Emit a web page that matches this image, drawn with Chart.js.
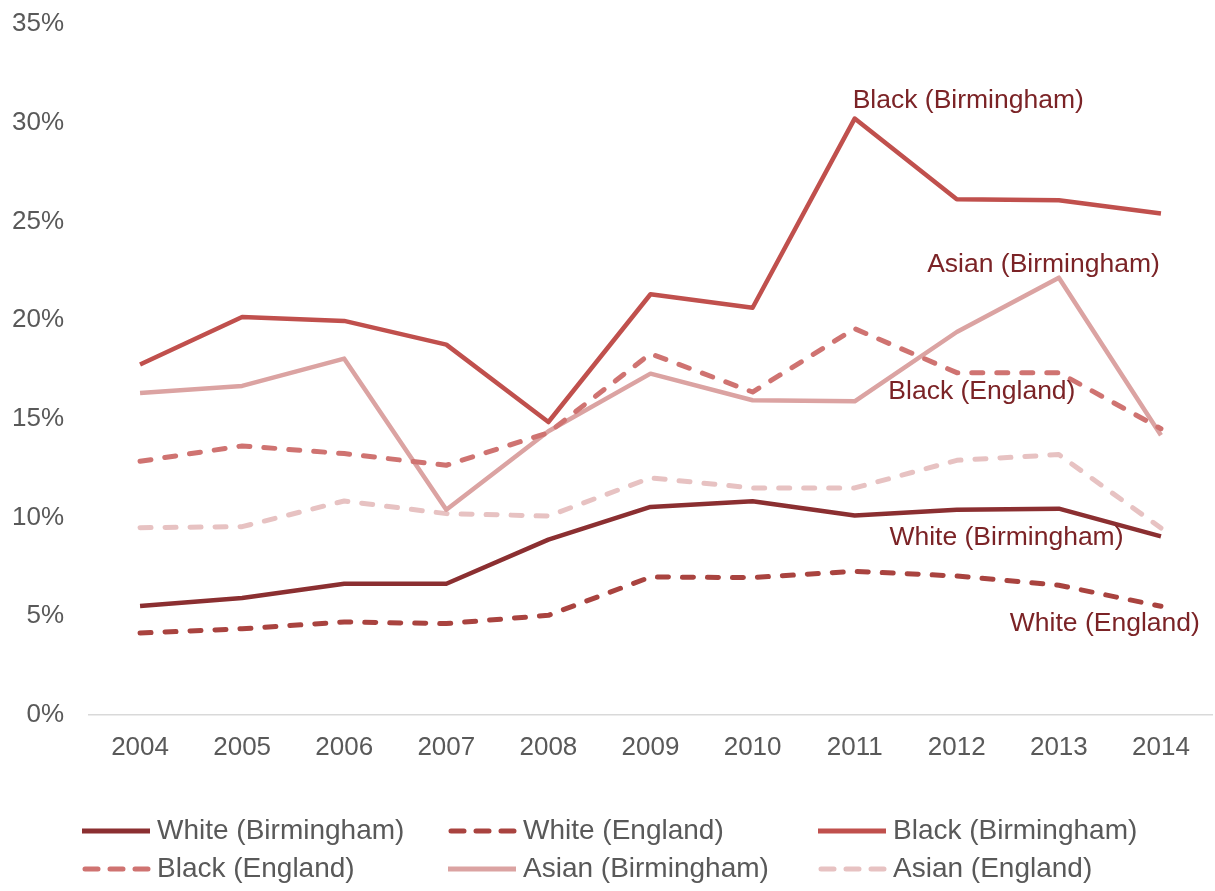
<!DOCTYPE html>
<html>
<head>
<meta charset="utf-8">
<script src="https://cdn.jsdelivr.net/npm/chart.js@4.4.1/dist/chart.umd.min.js"></script>
<style>
    html, body { margin: 0; padding: 0; background: #fff; }
    #wrap { width: 1215px; height: 891px; position: relative; }
</style>
</head>
<body>
<div id="wrap"><canvas id="chart-line"></canvas></div>
<script>
// data (percent)
var years = ['2004', '2005', '2006', '2007', '2008', '2009', '2010', '2011', '2012', '2013', '2014'];
var seriesNames = ['White (Birmingham)', 'White (England)', 'Black (Birmingham)',
                   'Black (England)', 'Asian (Birmingham)', 'Asian (England)'];
var whiteBirmingham = [5.52, 5.93, 6.65, 6.65, 8.88, 10.54, 10.83, 10.11, 10.40, 10.45, 9.05];
var whiteEngland    = [4.15, 4.37, 4.71, 4.63, 5.05, 6.99, 6.96, 7.28, 7.04, 6.57, 5.51];
var blackBirmingham = [17.75, 20.16, 19.96, 18.76, 14.84, 21.31, 20.63, 30.21, 26.12, 26.07, 25.40];
var blackEngland    = [12.85, 13.63, 13.24, 12.65, 14.30, 18.30, 16.36, 19.57, 17.34, 17.34, 14.50];
var asianBirmingham = [16.31, 16.67, 18.05, 10.40, 14.37, 17.29, 15.94, 15.89, 19.40, 22.15, 14.17];
var asianEngland    = [9.49, 9.54, 10.84, 10.20, 10.08, 12.01, 11.50, 11.50, 12.90, 13.19, 9.47];
var yMin = 0, yMax = 35, yStep = 5;

var FONT = "'Liberation Sans', Arial, sans-serif";
var colors = ['#8b2f31', '#a9433f', '#c0504d', '#cf7371', '#dba3a2', '#e7c2c2'];
var dashed = [false, true, false, true, false, true];

// labels placed next to the lines: [x as category index, y as value]
var callouts = [
    { text: 'Black (Birmingham)', x: 6.98, y: 31.1 },
    { text: 'Asian (Birmingham)', x: 7.71, y: 22.8 },
    { text: 'Black (England)',    x: 7.33, y: 16.36 },
    { text: 'White (Birmingham)', x: 7.34, y: 8.97 },
    { text: 'White (England)',    x: 8.52, y: 4.61 }
];

var allValues = [whiteBirmingham, whiteEngland, blackBirmingham, blackEngland, asianBirmingham, asianEngland];

var datasets = allValues.map(function (vals, i) {
    return {
        label: seriesNames[i],
        data: vals,
        borderColor: colors[i],
        backgroundColor: colors[i],
        borderWidth: dashed[i] ? 5 : 4.5,
        borderDash: dashed[i] ? [11, 14] : [],
        borderCapStyle: dashed[i] ? 'round' : 'butt',
        borderJoinStyle: 'round',
        pointRadius: 0,
        tension: 0,
        fill: false
    };
});

var calloutPlugin = {
    id: 'callouts',
    afterDatasetsDraw: function (chart) {
        var ctx = chart.ctx;
        var xs = chart.scales.x, ys = chart.scales.y;
        ctx.save();
        ctx.font = '26.5px ' + FONT;
        ctx.fillStyle = '#7b2326';
        ctx.textAlign = 'left';
        ctx.textBaseline = 'middle';
        callouts.forEach(function (c) {
            ctx.fillText(c.text, xs.getPixelForValue(c.x), ys.getPixelForValue(c.y));
        });
        ctx.restore();
    }
};

// legend in three fixed columns, like the original
var legendPlugin = {
    id: 'gridLegend',
    afterDraw: function (chart) {
        var ctx = chart.ctx;
        var colX = [82, 448, 818], rowY = [831, 869];
        ctx.save();
        ctx.font = '28px ' + FONT;
        ctx.textBaseline = 'middle';
        ctx.textAlign = 'left';
        chart.data.datasets.forEach(function (ds, i) {
            var x = colX[i % 3], y = rowY[Math.floor(i / 3)];
            ctx.beginPath();
            ctx.strokeStyle = ds.borderColor;
            ctx.lineWidth = 5;
            ctx.lineCap = ds.borderDash.length ? 'round' : 'butt';
            ctx.setLineDash(ds.borderDash.length ? [13, 12] : []);
            ctx.moveTo(x + (ds.borderDash.length ? 3 : 0), y);
            ctx.lineTo(x + 68, y);
            ctx.stroke();
            ctx.setLineDash([]);
            ctx.fillStyle = '#595959';
            ctx.fillText(ds.label, x + 75, y);
        });
        ctx.restore();
    }
};

var ctx = document.getElementById('chart-line').getContext('2d');
new Chart(ctx, {
    type: 'line',
    data: { labels: years, datasets: datasets },
    plugins: [calloutPlugin, legendPlugin],
    options: {
        responsive: true,
        maintainAspectRatio: false,
        animation: false,
        layout: { padding: { top: 24, right: 3, left: 0, bottom: 0 } },
        plugins: {
            legend: { display: false },
            tooltip: { enabled: false }
        },
        scales: {
            x: {
                offset: true,
                grid: { display: false, drawTicks: false },
                border: { display: true, color: '#d9d9d9', width: 1.5 },
                ticks: {
                    padding: 17,
                    color: '#595959',
                    maxRotation: 0,
                    font: { size: 26, family: FONT }
                },
                afterFit: function (scale) { scale.height = 176; }
            },
            y: {
                min: yMin,
                max: yMax,
                grid: { display: false, drawTicks: false },
                border: { display: false },
                ticks: {
                    stepSize: yStep,
                    padding: 25,
                    color: '#595959',
                    font: { size: 26, family: FONT },
                    callback: function (v) { return v + '%'; }
                },
                afterFit: function (scale) {
                    scale.width = 89;
                    scale.paddingTop = 0;
                    scale.paddingBottom = 0;
                }
            }
        }
    }
});
</script>
</body>
</html>
